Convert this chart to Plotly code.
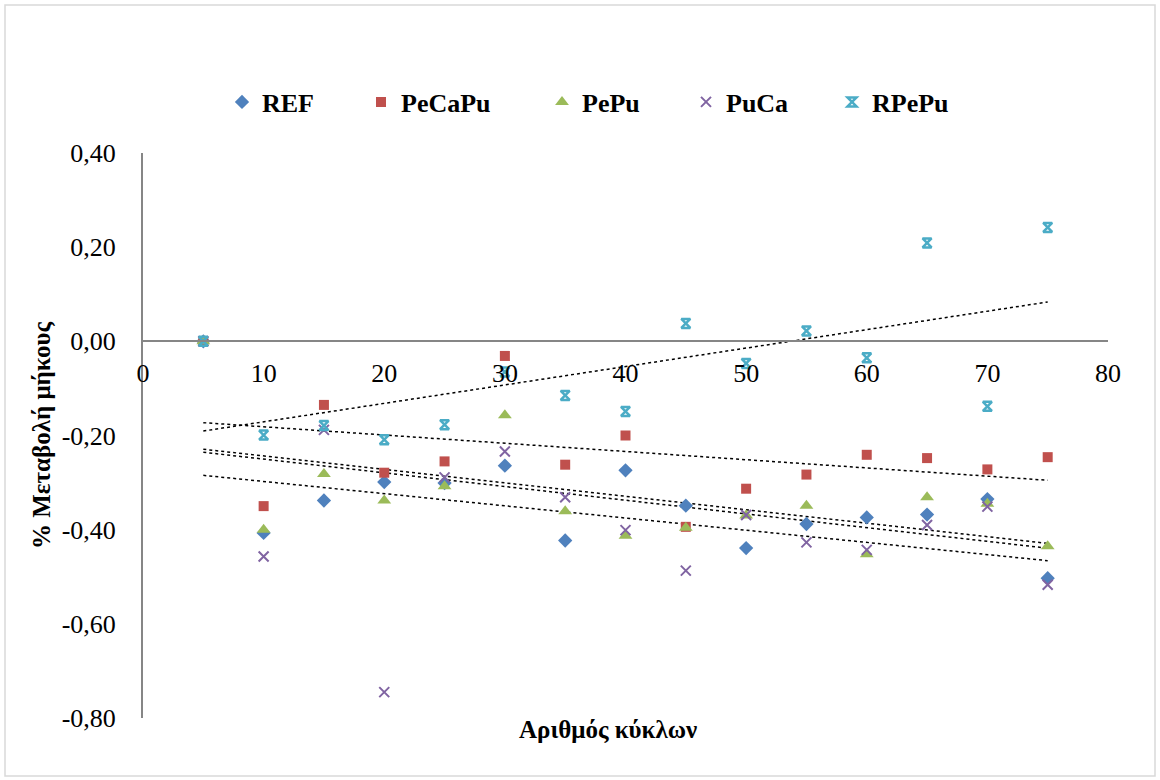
import numpy as np
import plotly.graph_objects as go

# Κύκλοι μέτρησης
cycles = [5, 10, 15, 20, 25, 30, 35, 40, 45, 50, 55, 60, 65, 70, 75]

# % μεταβολή μήκους ανά σύνθεση
ref = [0.0, -0.407, -0.338, -0.299, -0.301, -0.264, -0.423, -0.274, -0.349, -0.439, -0.388, -0.374, -0.368, -0.335, -0.503]
pecapu = [0.0, -0.350, -0.135, -0.279, -0.255, -0.031, -0.262, -0.200, -0.394, -0.313, -0.283, -0.241, -0.248, -0.272, -0.246]
pepu = [0.0, -0.400, -0.282, -0.338, -0.308, -0.157, -0.361, -0.413, -0.396, -0.370, -0.349, -0.452, -0.331, -0.345, -0.435]
puca = [0.0, -0.457, -0.188, -0.745, -0.289, -0.234, -0.331, -0.401, -0.487, -0.369, -0.427, -0.443, -0.390, -0.351, -0.517]
rpepu = [0.0, -0.199, -0.179, -0.209, -0.177, -0.065, -0.115, -0.149, 0.038, -0.047, 0.022, -0.035, 0.209, -0.138, 0.242]

y_tickvals = [0.4, 0.2, 0.0, -0.2, -0.4, -0.6, -0.8]
y_ticktext = ["0,40", "0,20", "0,00", "-0,20", "-0,40", "-0,60", "-0,80"]

series = [
    ("REF", ref, "#4F81BD", dict(symbol="diamond", size=11)),
    ("PeCaPu", pecapu, "#C0504D", dict(symbol="square", size=10)),
    ("PePu", pepu, "#9BBB59", dict(symbol="triangle-up", size=12)),
    ("PuCa", puca, "#8064A2", dict(symbol="x-thin-open", size=10, line=dict(width=2))),
    ("RPePu", rpepu, "#4BACC6", dict(symbol="hourglass-open", size=9, line=dict(width=2.5))),
]

# legend marker centres (px) for the five separate legends
legend_px = [242, 381, 562, 706, 852]

W, H = 1160, 780
L, R, T, B = 143, 52, 153, 62
pw, ph = W - L - R, H - T - B

fig = go.Figure()

x = np.array(cycles, dtype=float)
# linear trendlines, drawn first so the markers sit on top
for name, vals, color, mk in series:
    k, b = np.polyfit(x, np.array(vals), 1)
    xs = np.array([x.min(), x.max()])
    fig.add_trace(go.Scatter(
        x=xs, y=k * xs + b, mode="lines",
        line=dict(color="black", width=1.5, dash="dot"),
        showlegend=False, hoverinfo="skip",
    ))

for i, (name, vals, color, mk) in enumerate(series):
    marker = dict(color=color, **mk)
    if "line" in marker:
        marker["line"] = dict(color=color, width=mk["line"]["width"])
    fig.add_trace(go.Scatter(
        x=cycles, y=vals, mode="markers", name=name,
        marker=marker,
        legend="legend" if i == 0 else f"legend{i+1}",
    ))

legend_font = dict(family="Liberation Serif", size=26, color="black", weight="bold")
leg_layout = {}
for i, px in enumerate(legend_px):
    key = "legend" if i == 0 else f"legend{i+1}"
    leg_layout[key] = dict(
        x=(px - 20 - L) / pw, xanchor="left",
        y=(H - B - 102) / ph, yanchor="middle",
        font=legend_font, bgcolor="rgba(0,0,0,0)", borderwidth=0,
        itemwidth=30,
    )

fig.update_layout(
    width=W, height=H,
    margin=dict(l=L, r=R, t=T, b=B),
    paper_bgcolor="white", plot_bgcolor="white",
    font=dict(family="Liberation Serif", size=26, color="black"),
    showlegend=True,
    **leg_layout,
    xaxis=dict(
        range=[0, 80], dtick=10, tick0=0,
        showgrid=False, zeroline=False,
        showline=True, linecolor="#868686", linewidth=2,
        anchor="free", position=2 / 3,
        ticks="", ticklabelstandoff=8,
        tickfont=dict(family="Liberation Serif", size=26, color="black"),
    ),
    yaxis=dict(
        range=[-0.8, 0.4],
        tickvals=y_tickvals, ticktext=y_ticktext,
        showgrid=False, zeroline=False,
        showline=True, linecolor="#868686", linewidth=2,
        ticks="", ticklabelstandoff=20,
        tickfont=dict(family="Liberation Serif", size=26, color="black"),
        title=dict(text="<b>% Μεταβολή μήκους</b>", standoff=4,
                   font=dict(family="Liberation Serif", size=25, color="black")),
    ),
    annotations=[dict(
        text="<b>Αριθμός κύκλων</b>", xref="paper", yref="paper",
        x=(608 - L) / pw, y=(H - B - 729) / ph, xanchor="center", yanchor="middle",
        showarrow=False, font=dict(family="Liberation Serif", size=25, color="black"),
    )],
    shapes=[dict(
        type="rect", xref="paper", yref="paper",
        x0=(5 - L) / pw, x1=(1155 - L) / pw,
        y0=(H - B - 776) / ph, y1=(H - B - 5) / ph,
        line=dict(color="#d9d9d9", width=1.5), layer="below",
    )],
)

fig.write_html("out.html")
